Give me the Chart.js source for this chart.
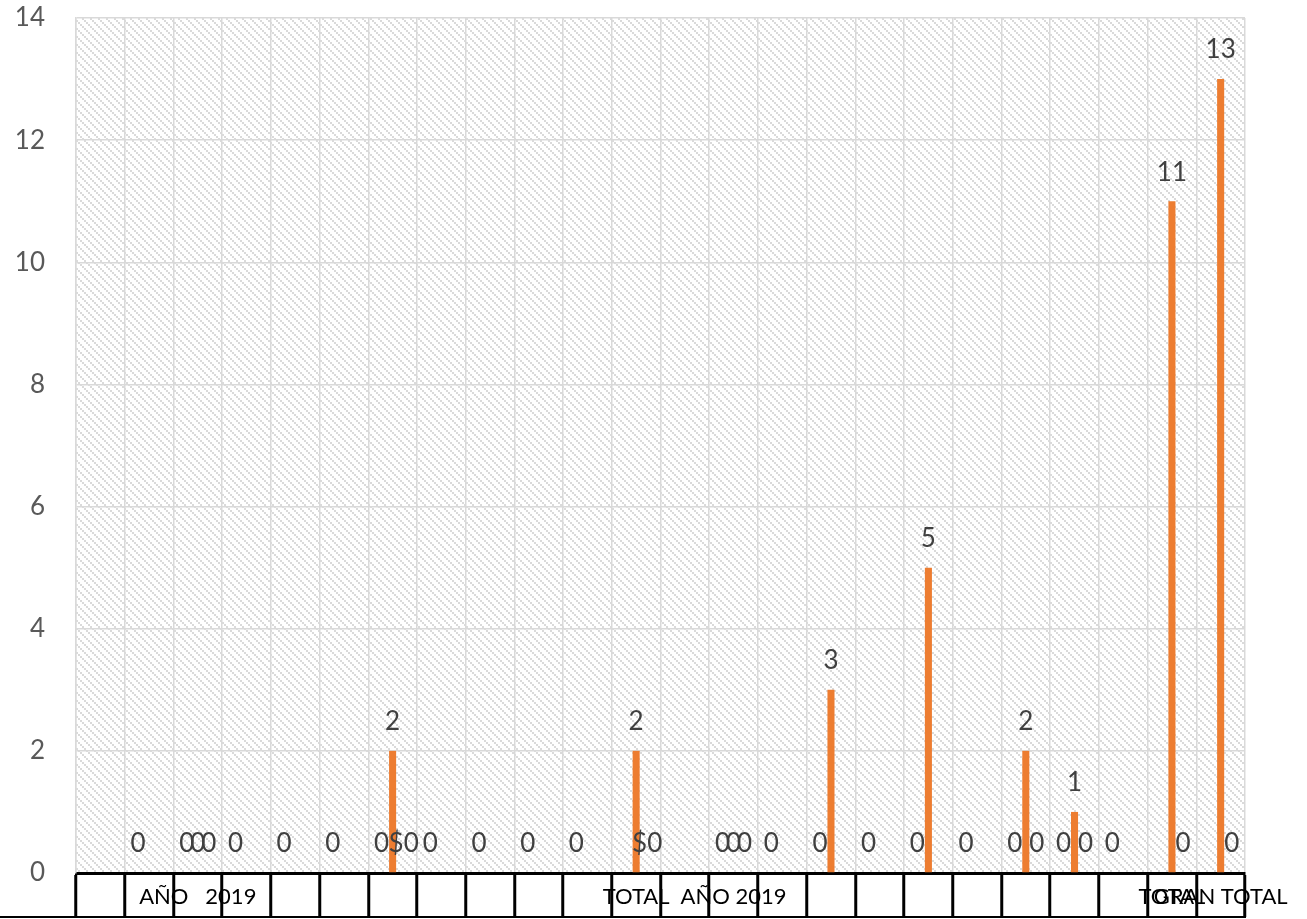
<!DOCTYPE html>
<html>
    <head>
        <meta charset="utf-8">
        <title>Grafico</title>
        <style>
            body { margin: 0; background: #fff; }
        </style>
    </head>
    <body>
        <canvas id="grafico" width="1307" height="919"></canvas>

        <script src="https://cdn.jsdelivr.net/npm/chart.js@4/dist/chart.umd.min.js"></script>
        <script>
        var categorias = ['', '', 'AÑO   2019', '', '', '', '', '', '', '', '', 'TOTAL',
                          '', 'AÑO 2019', '', '', '', '', '', '', '', '', 'TOTAL', 'GRAN TOTAL'];

        var serieA = [null, 0, 0, 0, 0, 0, 0, 0, 0, 0, 0, null,
                      null, 0, 0, 0, 0, 0, 0, 0, 0, 0, null, null];
        var serieB = [null, null, 0, null, null, null, 2, null, null, null, null, 2,
                      null, 0, null, 3, null, 5, null, 2, 1, null, 11, 13];
        var serieC = [null, null, 0, null, null, null, 0, null, null, null, null, 0,
                      null, 0, null, null, null, null, null, 0, 0, null, 0, 0];
        // posiciones de serieC que salen con formato moneda
        var monedaC = [6, 11];

        var ticksY = [0, 2, 4, 6, 8, 10, 12, 14];

        var fuente = 'Lato, "Open Sans", sans-serif';

        // trama diagonal del fondo
        var trama = document.createElement('canvas');
        trama.width = 8;
        trama.height = 8;
        var tctx = trama.getContext('2d');
        tctx.fillStyle = '#ffffff';
        tctx.fillRect(0, 0, 8, 8);
        tctx.fillStyle = '#dadada';
        for (var k = 0; k < 4; k++) {
            tctx.fillRect(k * 2, k * 2, 2, 2);
        }

        var fondo = {
            id: 'fondo',
            beforeDraw: function(chart) {
                var a = chart.chartArea;
                var ctx = chart.ctx;
                ctx.save();
                ctx.fillStyle = ctx.createPattern(trama, 'repeat');
                ctx.fillRect(a.left, a.top, a.right - a.left, a.bottom - a.top);
                ctx.restore();
            },
            afterDatasetsDraw: function(chart) {
                var ctx = chart.ctx;
                ctx.save();
                ctx.font = '26px ' + fuente;
                ctx.fillStyle = '#404040';
                ctx.textAlign = 'center';
                ctx.textBaseline = 'middle';
                chart.data.datasets.forEach(function(ds, i) {
                    var meta = chart.getDatasetMeta(i);
                    meta.data.forEach(function(el, j) {
                        var v = ds.data[j];
                        if (v === null) return;
                        var txt = String(v);
                        if (i === 2 && monedaC.indexOf(j) >= 0) txt = '$' + v;
                        ctx.fillText(txt, el.x, el.y - 29);
                    });
                });
                ctx.restore();
            },
            afterDraw: function(chart) {
                // linea inferior de la tabla del eje
                var a = chart.chartArea;
                var ctx = chart.ctx;
                ctx.save();
                ctx.strokeStyle = '#000';
                ctx.lineWidth = 2;
                ctx.beginPath();
                ctx.moveTo(0, a.bottom + 44);
                ctx.lineTo(a.right + 1, a.bottom + 44);
                ctx.stroke();
                ctx.restore();
            }
        };

        var ctx = document.getElementById('grafico').getContext('2d');
        new Chart(ctx, {
            type: 'bar',
            data: {
                labels: categorias,
                datasets: [
                    { label: 'A', data: serieA, backgroundColor: '#4472C4' },
                    { label: 'B', data: serieB, backgroundColor: '#ED7D31' },
                    { label: 'C', data: serieC, backgroundColor: '#A5A5A5' }
                ]
            },
            options: {
                responsive: false,
                animation: false,
                categoryPercentage: 0.68,
                barPercentage: 0.64,
                layout: { padding: { top: 18, right: 62, bottom: 0, left: 0 } },
                plugins: {
                    legend: { display: false },
                    tooltip: { enabled: false }
                },
                scales: {
                    x: {
                        afterFit: function(s) {
                            s.height = 46;
                            s.paddingLeft = 0;
                            s.paddingRight = 0;
                        },
                        grid: {
                            color: '#d9d9d9',
                            lineWidth: 1.5,
                            tickColor: '#000',
                            tickWidth: 3,
                            tickLength: 44
                        },
                        border: { color: '#000', width: 3 },
                        ticks: {
                            autoSkip: false,
                            maxRotation: 0,
                            padding: -33,
                            color: '#000',
                            font: { family: fuente, size: 22 }
                        }
                    },
                    y: {
                        min: 0,
                        max: 14,
                        afterFit: function(s) {
                            s.width = 76;
                            s.paddingTop = 0;
                            s.paddingBottom = 0;
                        },
                        afterBuildTicks: function(s) {
                            s.ticks = ticksY.map(function(v) { return { value: v }; });
                        },
                        grid: { color: '#d9d9d9', lineWidth: 1.5, drawTicks: false },
                        border: { color: '#d9d9d9', width: 1.5 },
                        ticks: {
                            padding: 31,
                            color: '#595959',
                            font: { family: fuente, size: 26 }
                        }
                    }
                }
            },
            plugins: [fondo]
        });
        </script>
    </body>
</html>
